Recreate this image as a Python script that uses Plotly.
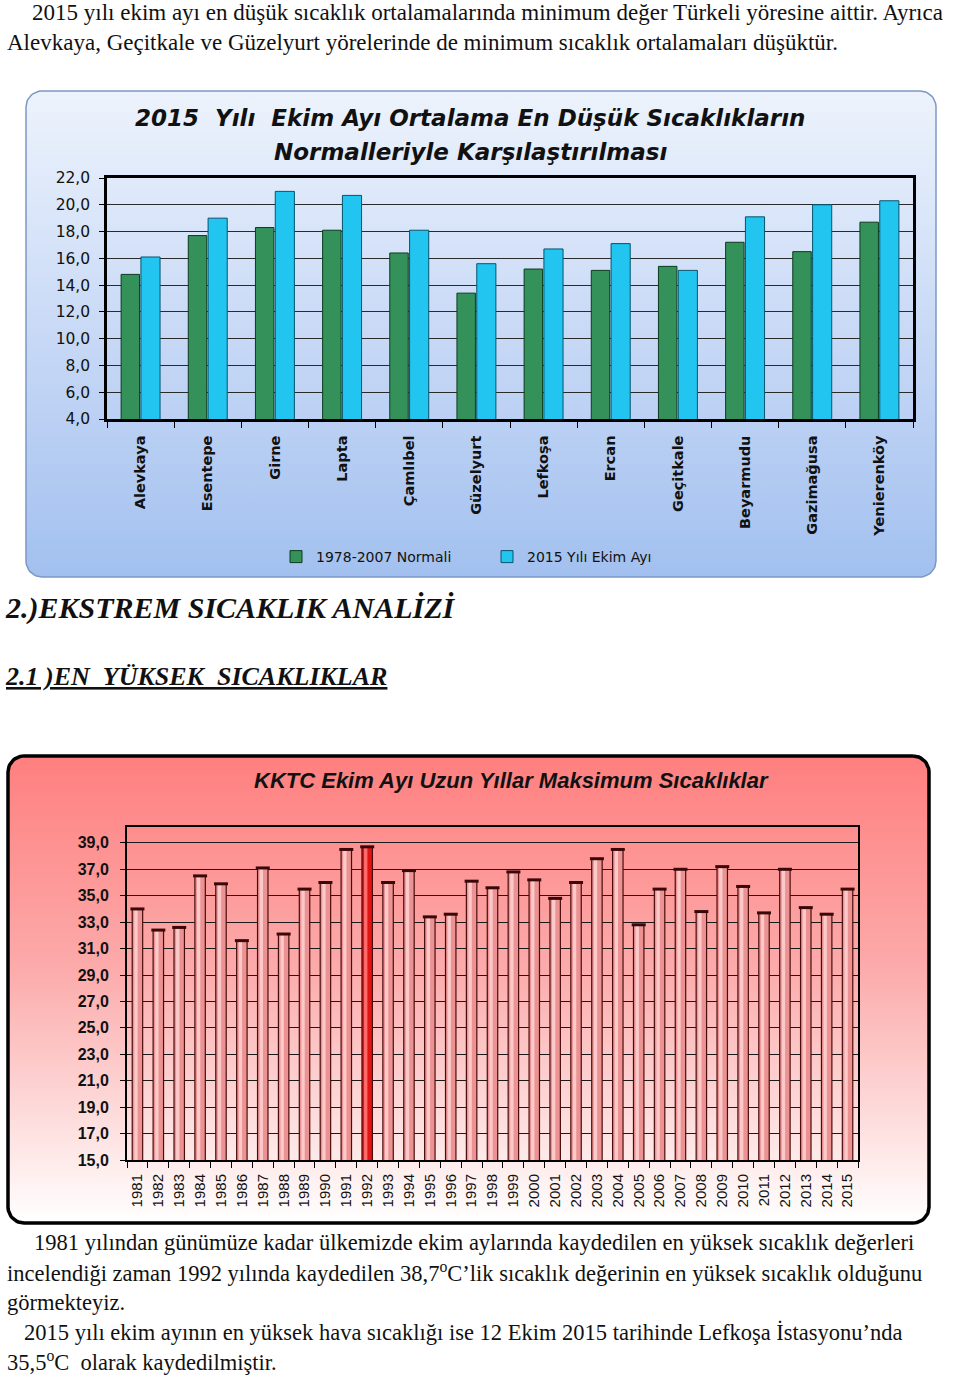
import numpy as np
import plotly.graph_objects as go

W, H = 960, 1376

# ---------------- data ----------------
stations = ["Alevkaya", "Esentepe", "Girne", "Lapta", "Çamlıbel", "Güzelyurt",
            "Lefkoşa", "Ercan", "Geçitkale", "Beyarmudu", "Gazimağusa", "Yenierenköy"]
normal_1978_2007 = [14.8, 17.7, 18.3, 18.1, 16.4, 13.4, 15.2, 15.1, 15.4, 17.2, 16.5, 18.7]
ekim_2015 = [16.1, 19.0, 21.0, 20.7, 18.1, 15.6, 16.7, 17.1, 15.1, 19.1, 20.0, 20.3]
series_names = ["1978-2007 Normali", "2015 Yılı Ekim Ayı"]

years = [str(y) for y in range(1981, 2016)]
max_temps = [34.0, 32.4, 32.6, 36.5, 35.9, 31.6, 37.1, 32.1, 35.5, 36.0,
             38.5, 38.7, 36.0, 36.9, 33.4, 33.6, 36.1, 35.6, 36.8, 36.2,
             34.8, 36.0, 37.8, 38.5, 32.8, 35.5, 37.0, 33.8, 37.2, 35.7,
             33.7, 37.0, 34.1, 33.6, 35.5]

top_ticks = list(np.arange(4, 22.1, 2))
bottom_ticks = list(range(15, 40, 2))

title1 = ["2015\u00a0\u00a0Yılı\u00a0\u00a0Ekim Ayı Ortalama En Düşük Sıcaklıkların",
          "Normalleriyle Karşılaştırılması"]
title2 = "KKTC Ekim Ayı Uzun Yıllar Maksimum Sıcaklıklar"

para_top = [
    "2015 yılı ekim ayı en düşük sıcaklık ortalamalarında minimum değer Türkeli yöresine aittir. Ayrıca",
    "Alevkaya, Geçitkale ve Güzelyurt yörelerinde de minimum sıcaklık ortalamaları düşüktür.",
]
heading1 = "2.)EKSTREM SICAKLIK ANALİZİ"
heading2 = "2.1 )EN\u00a0\u00a0YÜKSEK\u00a0\u00a0SICAKLIKLAR"
para_bottom = [
    "1981 yılından günümüze kadar ülkemizde ekim aylarında kaydedilen en yüksek sıcaklık değerleri",
    "incelendiği zaman 1992 yılında kaydedilen 38,7<sup>o</sup>C’lik sıcaklık değerinin en yüksek sıcaklık olduğunu",
    "görmekteyiz.",
    "2015 yılı ekim ayının en yüksek hava sıcaklığı ise 12 Ekim 2015 tarihinde Lefkoşa İstasyonu’nda",
    "35,5<sup>o</sup>C\u00a0\u00a0olarak kaydedilmiştir.",
]


def rounded_rect(x0, y0, x1, y1, r, n=14):
    xs, ys = [], []
    corners = [(x1 - r, y0 + r, -90, 0), (x1 - r, y1 - r, 0, 90),
               (x0 + r, y1 - r, 90, 180), (x0 + r, y0 + r, 180, 270)]
    for cx, cy, a0, a1 in corners:
        t = np.radians(np.linspace(a0, a1, n))
        xs += list(cx + r * np.cos(t))
        ys += list(cy + r * np.sin(t))
    xs.append(xs[0]); ys.append(ys[0])
    return xs, ys


def px(y):
    return 1 - y / H


fig = go.Figure()

# ---------- decorative panels (background axis x/y in page pixels) ----------
bx, by = rounded_rect(26, 91, 936, 577, 16)
fig.add_trace(go.Scatter(
    x=bx, y=by, mode="lines", fill="toself", hoverinfo="skip", showlegend=False,
    line=dict(color="#7d98c4", width=1.5),
    fillgradient=dict(type="vertical", start=91, stop=577,
                      colorscale=[[0, "#edf3fc"], [0.5, "#c8d9f6"], [1, "#a2c0ef"]]),
    xaxis="x", yaxis="y"))
rx, ry = rounded_rect(8, 756, 929, 1223, 16)
fig.add_trace(go.Scatter(
    x=rx, y=ry, mode="lines", fill="toself", hoverinfo="skip", showlegend=False,
    line=dict(color="#000000", width=3.5),
    fillgradient=dict(type="vertical", start=756, stop=1223,
                      colorscale=[[0, "#ff7f7f"], [0.45, "#fcaaaa"], [1, "#ffffff"]]),
    xaxis="x", yaxis="y"))

# ---------- top chart ----------
fig.add_trace(go.Bar(
    x=stations, y=normal_1978_2007, name=series_names[0],
    offset=-0.29, width=0.275,
    marker=dict(color="#34915a", line=dict(color="#0d3a1f", width=1)),
    xaxis="x2", yaxis="y2"))
fig.add_trace(go.Bar(
    x=stations, y=ekim_2015, name=series_names[1],
    offset=0.005, width=0.285,
    marker=dict(color="#22c4f0", line=dict(color="#07546e", width=1)),
    xaxis="x2", yaxis="y2"))

# ---------- bottom chart (cylinder-like bars) ----------
vmax = max(max_temps)
base_cols = ["#e11414" if v == vmax else "#ec9292" for v in max_temps]
hi_cols = ["#ff6a6a" if v == vmax else "#fbc9c9" for v in max_temps]
fig.add_trace(go.Bar(
    x=years, y=max_temps, width=0.5, offset=-0.25, showlegend=False,
    marker=dict(color=base_cols, line=dict(color="#4a0d0d", width=1.2)),
    xaxis="x3", yaxis="y3"))
fig.add_trace(go.Bar(
    x=years, y=max_temps, width=0.16, offset=-0.15, showlegend=False,
    marker=dict(color=hi_cols, line=dict(width=0)),
    hoverinfo="skip", xaxis="x3", yaxis="y3"))
fig.add_trace(go.Scatter(
    x=years, y=max_temps, mode="markers", showlegend=False, hoverinfo="skip",
    marker=dict(symbol="line-ew", size=10, line=dict(color="#3a0808", width=3)),
    xaxis="x3", yaxis="y3"))

sans = "Liberation Sans, Arial, sans-serif"
dejavu = "DejaVu Sans, Verdana, sans-serif"
serif = "Liberation Serif, Times New Roman, serif"

fig.update_layout(
    width=W, height=H, margin=dict(l=0, r=0, t=0, b=0, autoexpand=False),
    paper_bgcolor="white", plot_bgcolor="rgba(0,0,0,0)",
    separators=", ", barmode="overlay",
    xaxis=dict(domain=[0, 1], range=[0, W], visible=False, fixedrange=True),
    yaxis=dict(domain=[0, 1], range=[H, 0], visible=False, fixedrange=True),
    xaxis2=dict(domain=[107 / W, 913 / W], anchor="y2", type="category",
                range=[-0.5, len(stations) - 0.5],
                tickangle=-90, showline=True, mirror=True, linecolor="black", linewidth=2.5,
                ticks="outside", tickson="boundaries", ticklen=6, tickcolor="black",
                ticklabelstandoff=8, showgrid=False, automargin=False,
                tickfont=dict(family=dejavu, size=14.5, color="#111", weight="bold")),
    yaxis2=dict(domain=[px(419), px(178)], anchor="x2", range=[4, 22],
                tickvals=top_ticks, tickformat=".1f", automargin=False,
                showline=True, mirror=True, linecolor="black", linewidth=2.5,
                gridcolor="#2a2a2a", gridwidth=1,
                ticks="outside", ticklen=5, tickcolor="black", ticklabelstandoff=6,
                tickfont=dict(family=dejavu, size=15.5, color="#111")),
    xaxis3=dict(domain=[127 / W, 858 / W], anchor="y3", type="category",
                range=[-0.5, len(years) - 0.5],
                tickangle=-90, showline=True, mirror=True, linecolor="black", linewidth=2,
                ticks="outside", tickson="boundaries", ticklen=6, tickcolor="black",
                ticklabelstandoff=6, showgrid=False, automargin=False,
                tickfont=dict(family=sans, size=15, color="#111")),
    yaxis3=dict(domain=[px(1160), px(827)], anchor="x3", range=[15, 40.2],
                tickvals=bottom_ticks, tickformat=".1f", automargin=False,
                showline=True, mirror=True, linecolor="black", linewidth=2,
                gridcolor="#1a1a1a", gridwidth=1,
                ticks="outside", ticklen=5, tickcolor="black", ticklabelstandoff=8,
                tickfont=dict(family=sans, size=16, color="#111", weight="bold")),
    legend=dict(orientation="h", x=276 / W, y=px(557), xanchor="left", yanchor="middle",
                bgcolor="rgba(0,0,0,0)", entrywidth=166, entrywidthmode="pixels",
                itemwidth=30, font=dict(family=dejavu, size=14, color="#111")),
    showlegend=True,
)

ann = []
ann.append(dict(x=470, y=118, text="<b><i>" + title1[0] + "</i></b>",
                font=dict(family=dejavu, size=23, color="#111")))
ann.append(dict(x=470, y=152, text="<b><i>" + title1[1] + "</i></b>",
                font=dict(family=dejavu, size=23, color="#111")))
ann.append(dict(x=511, y=780, text="<b><i>" + title2 + "</i></b>",
                font=dict(family=sans, size=22, color="#111")))
for a in ann:
    a.update(xref="x", yref="y", showarrow=False, xanchor="center", yanchor="middle")

text_items = [
    (30, 12, para_top[0], 23), (5, 42, para_top[1], 23),
    (32, 1242, para_bottom[0], 22.5), (5, 1272, para_bottom[1], 22.5),
    (5, 1302, para_bottom[2], 22.5), (22, 1332, para_bottom[3], 22.5),
    (5, 1361, para_bottom[4], 22.5),
]
for x, y, t, s in text_items:
    ann.append(dict(x=x, y=y, text=t, xref="x", yref="y", showarrow=False,
                    xanchor="left", yanchor="middle",
                    font=dict(family=serif, size=s, color="#111")))
ann.append(dict(x=3, y=608, text="<b><i>" + heading1 + "</i></b>", xref="x", yref="y",
                showarrow=False, xanchor="left", yanchor="middle",
                font=dict(family=serif, size=30, color="#111")))
ann.append(dict(x=3, y=676, text="<b><i><u>" + heading2 + "</u></i></b>", xref="x", yref="y",
                showarrow=False, xanchor="left", yanchor="middle",
                font=dict(family=serif, size=26, color="#111")))
fig.update_layout(annotations=ann)

fig.write_html("out.html")
